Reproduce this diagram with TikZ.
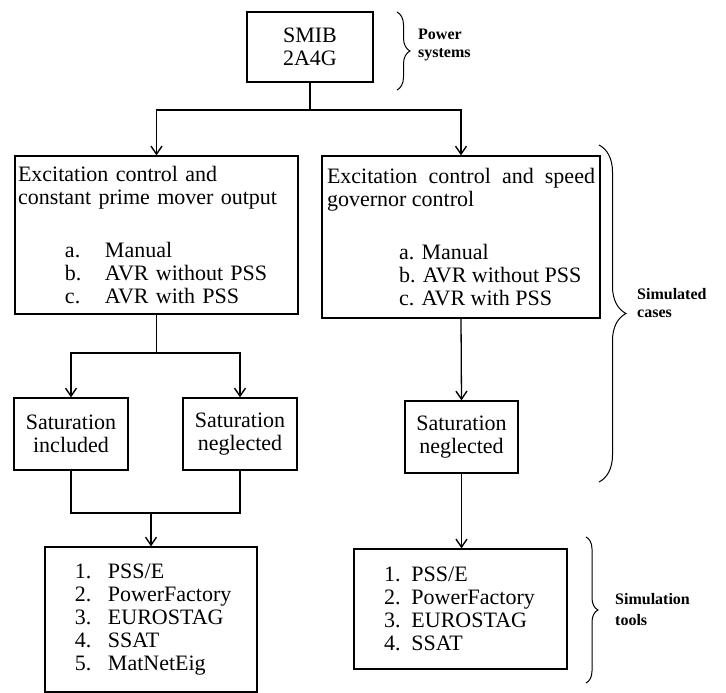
\documentclass[tikz,border=0pt]{standalone}
\usepackage{fontspec}
\setmainfont{Liberation Serif}
\usetikzlibrary{arrows.meta,decorations.pathreplacing}
\begin{document}
\begin{tikzpicture}[x=1pt,y=-1pt,
  box/.style={draw, line width=1.3pt, inner sep=0pt, font=\fontsize{22}{23}\selectfont},
  conn/.style={line width=1.3pt},
  arr/.style={conn, -{Straight Barb[length=8pt,width=11pt,line width=1.4pt]}},
  lbl/.style={font=\fontsize{16}{18}\selectfont\bfseries, align=left, anchor=west, inner sep=0pt},
  brc/.style={line width=1pt, decorate, decoration={brace, amplitude=#1}}
]
\useasboundingbox (0,0) rectangle (726,693);

% boxes
\node[box, minimum width=126pt, minimum height=70pt, align=center] (smib) at (310,47) {SMIB\\2A4G};

\node[box, minimum width=283pt, minimum height=158pt, text width=277pt, inner xsep=3pt, align=left] (L) at (156.5,235)
 {Excitation control and\\
  constant prime mover output\\[30pt]
  \hspace*{47pt}\makebox[40pt][l]{a.}Manual\\
  \hspace*{47pt}\makebox[40pt][l]{b.}AVR without PSS\\
  \hspace*{47pt}\makebox[40pt][l]{c.}AVR with PSS};

\node[box, minimum width=278pt, minimum height=162pt, text width=268pt, inner xsep=3pt, align=justify] (R) at (461,237)
 {Excitation control and speed governor control\\[30pt]
  \hspace*{72pt}a. Manual\\
  \hspace*{72pt}b. AVR without PSS\\
  \hspace*{72pt}c. AVR with PSS};

\node[box, minimum width=114pt, minimum height=72pt, align=center] (si) at (71,434) {Saturation\\included};
\node[box, minimum width=114pt, minimum height=72pt, align=center] (sn) at (240,434) {Saturation\\neglected};
\node[box, minimum width=113pt, minimum height=72pt, align=center] (sn2) at (461.5,437) {Saturation\\neglected};

\node[box, minimum width=212pt, minimum height=145pt, text width=212pt, align=left] (bl) at (151,619.5)
 {\hspace*{30pt}\makebox[33pt][l]{1.}PSS/E\\
  \hspace*{30pt}\makebox[33pt][l]{2.}PowerFactory\\
  \hspace*{30pt}\makebox[33pt][l]{3.}EUROSTAG\\
  \hspace*{30pt}\makebox[33pt][l]{4.}SSAT\\
  \hspace*{30pt}\makebox[33pt][l]{5.}MatNetEig};

\node[box, minimum width=213pt, minimum height=120pt, text width=213pt, align=left] (br) at (460.5,609)
 {\hspace*{30pt}1. PSS/E\\
  \hspace*{30pt}2. PowerFactory\\
  \hspace*{30pt}3. EUROSTAG\\
  \hspace*{30pt}4. SSAT};

% connectors
\coordinate (j1) at (310,110);
\draw[conn] (smib.south) -- (j1);
\draw[arr] (j1) -| (L.north);
\draw[arr] (j1) -| (R.north);

\coordinate (j2) at (156.5,353);
\draw[conn] (L.south) -- (j2);
\draw[arr] (j2) -| (si.north);
\draw[arr] (j2) -| (sn.north);

\coordinate (j3) at (151,513);
\draw[conn] (si.south) |- (j3);
\draw[conn] (sn.south) |- (j3);
\draw[arr] (j3) -- (bl.north);

\draw[arr] (R.south) -- (sn2.north);
\draw[arr] (sn2.south) -- (br.north -| sn2.south);

% braces and labels
\draw[brc=13pt] (397,12) -- (397,90);
\node[lbl] (ps) at (418,45) {Power\\systems};

\draw[brc=27pt] (599,145) -- (599,482);
\node[lbl] (sc) at (637,303) {Simulated\\cases};

\draw[brc=12pt] (586,537) -- (586,683);
\node[lbl] (st) at (615,610) {Simulation\\[3pt]tools};
\end{tikzpicture}
\end{document}
